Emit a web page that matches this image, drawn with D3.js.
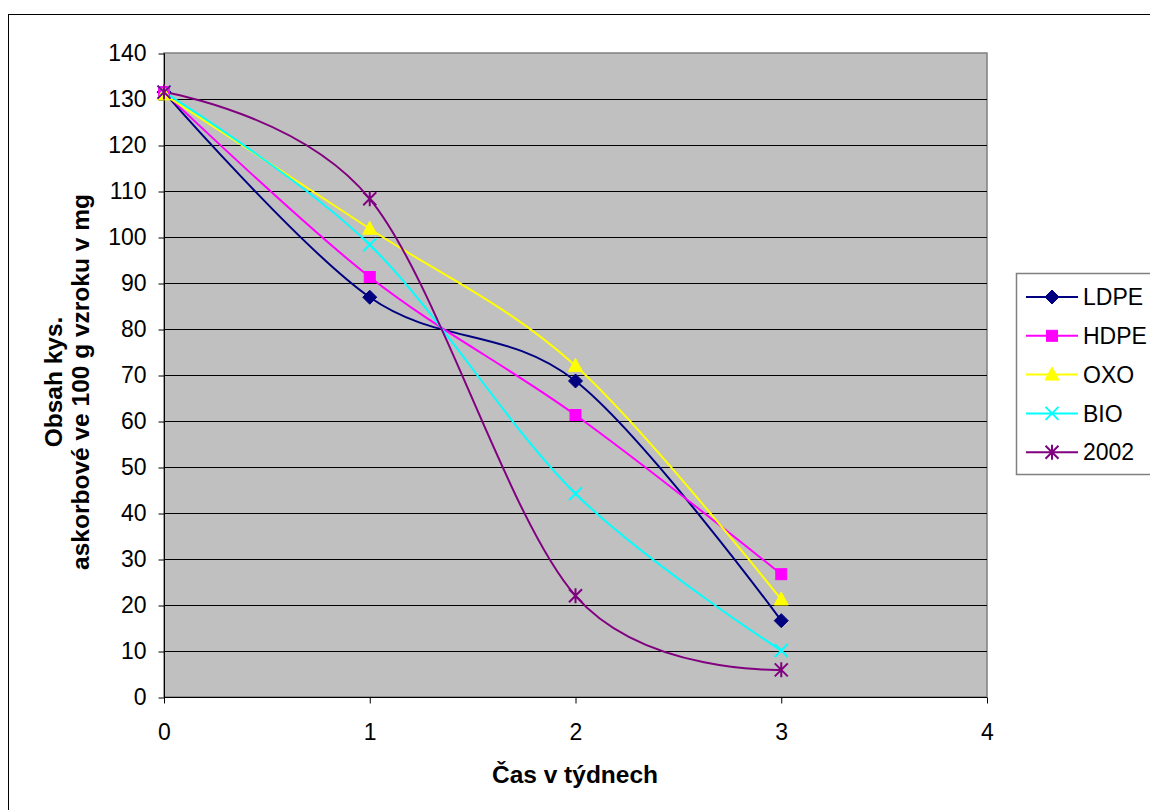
<!DOCTYPE html>
<html>
<head>
<meta charset="utf-8">
<script src="https://cdn.jsdelivr.net/npm/d3@7"></script>
<style>
  body { margin: 0; background: #fff; }
  text { font-family: Arial, "Liberation Sans", sans-serif; }
</style>
</head>
<body>
<svg id="chart" width="1150" height="810"></svg>
<script>
// data
weeks = [0, 1, 2, 3];
ldpe = [131.5, 86.9, 68.7, 16.6];
hdpe = [131.5, 91.3, 61.3, 26.7];
oxo = [131.0, 101.8, 72.0, 21.2];
bio = [131.5, 98.3, 44.2, 10.1];
y2002 = [131.5, 108.3, 22.0, 5.9];
seriesNames = ["LDPE", "HDPE", "OXO", "BIO", "2002"];
seriesColors = ["#000080", "#FF00FF", "#FFFF00", "#00FFFF", "#800080"];
seriesMarkers = ["diamond", "square", "triangle", "x", "star"];
xTicks = [0, 1, 2, 3, 4];
yTicks = d3.range(0, 141, 10);

var allSeries = [ldpe, hdpe, oxo, bio, y2002];

var svg = d3.select("#chart");
var pLeft = 164, pRight = 987, pTop = 53, pBottom = 697;

// outer frame (runs off the right and bottom edges)
svg.append("rect")
    .attr("x", 8.5).attr("y", 14.5)
    .attr("width", 1160).attr("height", 820)
    .attr("fill", "#fff").attr("stroke", "#000").attr("stroke-width", 1);

var x = d3.scaleLinear().domain([0, 4]).range([pLeft, pRight]);
var y = d3.scaleLinear().domain([0, 140]).range([pBottom, pTop]);

// plot area
svg.append("rect")
    .attr("x", pLeft).attr("y", pTop)
    .attr("width", pRight - pLeft).attr("height", pBottom - pTop)
    .attr("fill", "#C0C0C0").attr("stroke", "#808080").attr("stroke-width", 1.5);

// gridlines
svg.append("g").selectAll("line")
    .data(yTicks.filter(function (d) { return d > 0 && d < 140; }))
    .enter().append("line")
    .attr("x1", pLeft).attr("x2", pRight)
    .attr("y1", function (d) { return Math.round(y(d)) + 0.5; })
    .attr("y2", function (d) { return Math.round(y(d)) + 0.5; })
    .attr("stroke", "#000").attr("stroke-width", 1);

// axes
var yAxis = d3.axisLeft(y).tickValues(yTicks).tickSize(6).tickPadding(12).tickFormat(d3.format("d"));
var gy = svg.append("g").attr("transform", "translate(" + (pLeft + 0.5) + ",0.5)").call(yAxis);
var xAxis = d3.axisBottom(x).tickValues(xTicks).tickSize(6).tickPadding(20).tickFormat(d3.format("d"));
var gx = svg.append("g").attr("transform", "translate(0," + (pBottom + 0.5) + ")").call(xAxis);
[gx, gy].forEach(function (g) {
    g.select(".domain").attr("stroke", "#000");
    g.selectAll(".tick line").attr("stroke", "#000");
    g.selectAll("text").attr("font-size", 23).attr("fill", "#000")
        .attr("font-family", "Arial, 'Liberation Sans', sans-serif");
});
gx.select(".domain").attr("d", "M" + pLeft + ",0H" + pRight);
gy.select(".domain").attr("d", "M0," + pBottom + "V" + pTop);

// titles
svg.append("text")
    .attr("x", 575).attr("y", 783)
    .attr("text-anchor", "middle")
    .attr("font-size", 24.5).attr("font-weight", "bold")
    .text("Čas v týdnech");

var yt = svg.append("text")
    .attr("transform", "translate(62,382) rotate(-90)")
    .attr("text-anchor", "middle")
    .attr("font-size", 24.5).attr("font-weight", "bold");
yt.append("tspan").attr("x", 0).attr("dy", 0).text("Obsah kys.");
yt.append("tspan").attr("x", 0).attr("dy", 27).text("askorbové ve 100 g vzroku v mg");

// lines
var line = d3.line()
    .x(function (d, i) { return x(weeks[i]); })
    .y(function (d) { return y(d); })
    .curve(d3.curveCatmullRom.alpha(0));

function drawMarker(g, type, color) {
    if (type === "diamond") {
        g.append("path").attr("d", "M0,-7L7,0L0,7L-7,0Z").attr("fill", color).attr("stroke", color);
    } else if (type === "square") {
        g.append("rect").attr("x", -5.5).attr("y", -5.5).attr("width", 11).attr("height", 11)
            .attr("fill", color).attr("stroke", color);
    } else if (type === "triangle") {
        g.append("path").attr("d", "M0,-7.5L7,5.5L-7,5.5Z").attr("fill", color).attr("stroke", color);
    } else if (type === "x") {
        g.append("path").attr("d", "M-6.5,-6.5L6.5,6.5M6.5,-6.5L-6.5,6.5").attr("stroke", color).attr("stroke-width", 2);
    } else if (type === "star") {
        g.append("path").attr("d", "M-6.5,-6.5L6.5,6.5M6.5,-6.5L-6.5,6.5M0,-7.5L0,7.5").attr("stroke", color).attr("stroke-width", 2);
    }
}

allSeries.forEach(function (vals, s) {
    svg.append("path")
        .attr("d", line(vals))
        .attr("fill", "none")
        .attr("stroke", seriesColors[s])
        .attr("stroke-width", 2);
});
allSeries.forEach(function (vals, s) {
    vals.forEach(function (v, i) {
        var g = svg.append("g").attr("transform", "translate(" + x(weeks[i]) + "," + y(v) + ")");
        drawMarker(g, seriesMarkers[s], seriesColors[s]);
    });
});

// legend
svg.append("rect")
    .attr("x", 1016.5).attr("y", 273.5)
    .attr("width", 150).attr("height", 201)
    .attr("fill", "#fff").attr("stroke", "#808080").attr("stroke-width", 1.5);
var leg = svg.append("g").selectAll("g")
    .data(seriesNames)
    .enter().append("g")
    .attr("transform", function (d, i) { return "translate(0," + (297 + i * 38.8) + ")"; });
leg.append("line")
    .attr("x1", 1026).attr("x2", 1078)
    .attr("stroke", function (d, i) { return seriesColors[i]; })
    .attr("stroke-width", 2);
leg.each(function (d, i) {
    var g = d3.select(this).append("g").attr("transform", "translate(1052,0)");
    drawMarker(g, seriesMarkers[i], seriesColors[i]);
});
leg.append("text")
    .attr("x", 1083).attr("y", 0).attr("dy", "0.36em")
    .attr("font-size", 23)
    .text(function (d) { return d; });
</script>
</body>
</html>
